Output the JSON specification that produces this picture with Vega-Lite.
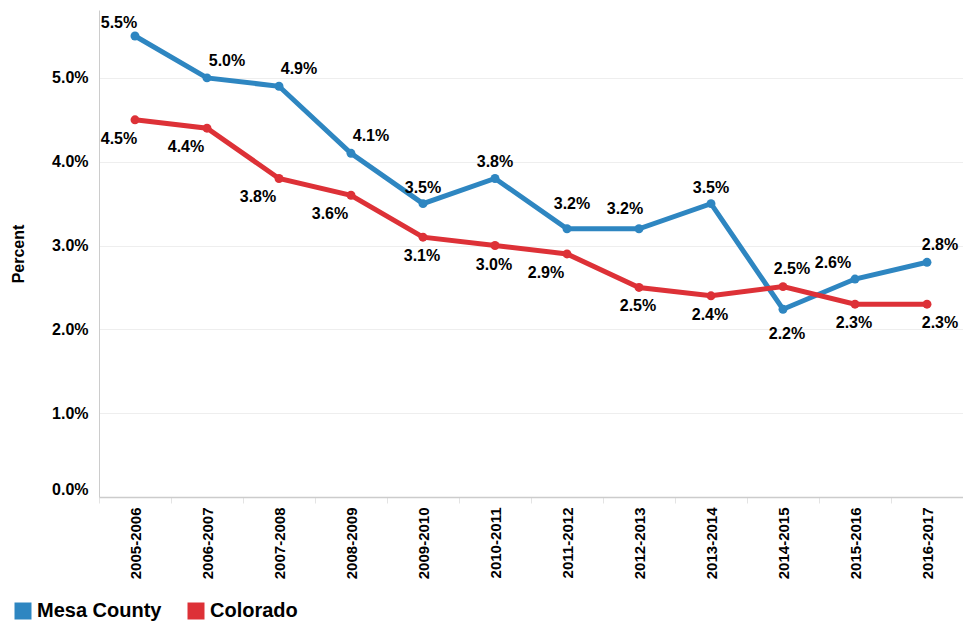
{
  "$schema": "https://vega.github.io/schema/vega-lite/v6.json",
  "autosize": {"type": "none"},
  "padding": {"left": 99, "top": 10, "right": 0, "bottom": 143},
  "width": 864,
  "height": 487,
  "background": "white",
  "config": {
    "font": "Liberation Sans",
    "view": {"stroke": null}
  },
  "data": {
    "values": [
      {"period": "2005-2006", "series": "Mesa County", "value": 0.055},
      {"period": "2006-2007", "series": "Mesa County", "value": 0.050},
      {"period": "2007-2008", "series": "Mesa County", "value": 0.049},
      {"period": "2008-2009", "series": "Mesa County", "value": 0.041},
      {"period": "2009-2010", "series": "Mesa County", "value": 0.035},
      {"period": "2010-2011", "series": "Mesa County", "value": 0.038},
      {"period": "2011-2012", "series": "Mesa County", "value": 0.032},
      {"period": "2012-2013", "series": "Mesa County", "value": 0.032},
      {"period": "2013-2014", "series": "Mesa County", "value": 0.035},
      {"period": "2014-2015", "series": "Mesa County", "value": 0.0224},
      {"period": "2015-2016", "series": "Mesa County", "value": 0.026},
      {"period": "2016-2017", "series": "Mesa County", "value": 0.028},
      {"period": "2005-2006", "series": "Colorado", "value": 0.045},
      {"period": "2006-2007", "series": "Colorado", "value": 0.044},
      {"period": "2007-2008", "series": "Colorado", "value": 0.038},
      {"period": "2008-2009", "series": "Colorado", "value": 0.036},
      {"period": "2009-2010", "series": "Colorado", "value": 0.031},
      {"period": "2010-2011", "series": "Colorado", "value": 0.030},
      {"period": "2011-2012", "series": "Colorado", "value": 0.029},
      {"period": "2012-2013", "series": "Colorado", "value": 0.025},
      {"period": "2013-2014", "series": "Colorado", "value": 0.024},
      {"period": "2014-2015", "series": "Colorado", "value": 0.0251},
      {"period": "2015-2016", "series": "Colorado", "value": 0.023},
      {"period": "2016-2017", "series": "Colorado", "value": 0.023}
    ]
  },
  "encoding": {
    "x": {
      "field": "period",
      "type": "ordinal",
      "sort": null,
      "scale": {"paddingInner": 0, "paddingOuter": 0},
      "axis": {
        "title": null,
        "labelAngle": -90,
        "labelAlign": "right",
        "labelBaseline": "middle",
        "labelFontSize": 15,
        "labelFontWeight": "bold",
        "labelColor": "#000000",
        "labelPadding": 4,
        "tickBand": "extent",
        "tickSize": 6,
        "tickColor": "#e4e4e4",
        "domainColor": "#cccccc",
        "domainWidth": 1.5,
        "grid": false
      }
    },
    "y": {
      "field": "value",
      "type": "quantitative",
      "scale": {"domain": [0, 0.0581], "nice": false},
      "axis": {
        "title": "Percent",
        "titleFontSize": 16,
        "titleFontWeight": "bold",
        "titleColor": "#000000",
        "titleX": -81,
        "titleBaseline": "middle",
        "values": [0, 0.01, 0.02, 0.03, 0.04, 0.05],
        "format": ".1%",
        "labelFontSize": 16,
        "labelFontWeight": "bold",
        "labelColor": "#000000",
        "labelPadding": 11,
        "labelFlush": true,
        "ticks": false,
        "tickSize": 0,
        "domainColor": "#cccccc",
        "gridColor": "#eeeeee",
        "gridWidth": 1
      }
    },
    "color": {
      "field": "series",
      "type": "nominal",
      "scale": {"domain": ["Mesa County", "Colorado"], "range": ["#2e86c1", "#dd3137"]},
      "legend": {
        "orient": "none",
        "legendX": -86,
        "legendY": 591,
        "direction": "horizontal",
        "symbolType": "square",
        "symbolSize": 289,
        "symbolStrokeWidth": 0,
        "symbolOpacity": 1,
        "labelFontSize": 20,
        "labelFontWeight": "bold",
        "labelColor": "#000000",
        "columnPadding": 24,
        "labelOffset": 4,
        "title": null
      }
    }
  },
  "layer": [
    {
      "mark": {"type": "line", "strokeWidth": 5}
    },
    {
      "mark": {"type": "point", "filled": true, "size": 80, "opacity": 1, "shape": "circle"}
    },
    {
      "transform": [{"filter": {"and": [{"field": "series", "equal": "Mesa County"}, {"field": "period", "oneOf": ["2005-2006"]}]}}],
      "mark": {"type": "text", "dx": -16, "dy": -13, "fontSize": 16, "fontWeight": "bold"},
      "encoding": {"text": {"field": "value", "type": "quantitative", "format": ".1%"}, "color": {"value": "#000000"}}
    },
    {
      "transform": [{"filter": {"and": [{"field": "series", "equal": "Mesa County"}, {"field": "period", "oneOf": ["2006-2007", "2007-2008", "2008-2009"]}]}}],
      "mark": {"type": "text", "dx": 20, "dy": -17, "fontSize": 16, "fontWeight": "bold"},
      "encoding": {"text": {"field": "value", "type": "quantitative", "format": ".1%"}, "color": {"value": "#000000"}}
    },
    {
      "transform": [{"filter": {"and": [{"field": "series", "equal": "Mesa County"}, {"field": "period", "oneOf": ["2009-2010", "2010-2011", "2013-2014"]}]}}],
      "mark": {"type": "text", "dx": 0, "dy": -16, "fontSize": 16, "fontWeight": "bold"},
      "encoding": {"text": {"field": "value", "type": "quantitative", "format": ".1%"}, "color": {"value": "#000000"}}
    },
    {
      "transform": [{"filter": {"and": [{"field": "series", "equal": "Mesa County"}, {"field": "period", "oneOf": ["2011-2012"]}]}}],
      "mark": {"type": "text", "dx": 5, "dy": -25, "fontSize": 16, "fontWeight": "bold"},
      "encoding": {"text": {"field": "value", "type": "quantitative", "format": ".1%"}, "color": {"value": "#000000"}}
    },
    {
      "transform": [{"filter": {"and": [{"field": "series", "equal": "Mesa County"}, {"field": "period", "oneOf": ["2012-2013"]}]}}],
      "mark": {"type": "text", "dx": -14, "dy": -20, "fontSize": 16, "fontWeight": "bold"},
      "encoding": {"text": {"field": "value", "type": "quantitative", "format": ".1%"}, "color": {"value": "#000000"}}
    },
    {
      "transform": [{"filter": {"and": [{"field": "series", "equal": "Mesa County"}, {"field": "period", "oneOf": ["2014-2015"]}]}}],
      "mark": {"type": "text", "dx": 4, "dy": 25, "fontSize": 16, "fontWeight": "bold"},
      "encoding": {"text": {"field": "value", "type": "quantitative", "format": ".1%"}, "color": {"value": "#000000"}}
    },
    {
      "transform": [{"filter": {"and": [{"field": "series", "equal": "Mesa County"}, {"field": "period", "oneOf": ["2015-2016"]}]}}],
      "mark": {"type": "text", "dx": -22, "dy": -16, "fontSize": 16, "fontWeight": "bold"},
      "encoding": {"text": {"field": "value", "type": "quantitative", "format": ".1%"}, "color": {"value": "#000000"}}
    },
    {
      "transform": [{"filter": {"and": [{"field": "series", "equal": "Mesa County"}, {"field": "period", "oneOf": ["2016-2017"]}]}}],
      "mark": {"type": "text", "dx": 13, "dy": -17, "fontSize": 16, "fontWeight": "bold"},
      "encoding": {"text": {"field": "value", "type": "quantitative", "format": ".1%"}, "color": {"value": "#000000"}}
    },
    {
      "transform": [{"filter": {"and": [{"field": "series", "equal": "Colorado"}, {"field": "period", "oneOf": ["2005-2006"]}]}}],
      "mark": {"type": "text", "dx": -16, "dy": 19, "fontSize": 16, "fontWeight": "bold"},
      "encoding": {"text": {"field": "value", "type": "quantitative", "format": ".1%"}, "color": {"value": "#000000"}}
    },
    {
      "transform": [{"filter": {"and": [{"field": "series", "equal": "Colorado"}, {"field": "period", "oneOf": ["2006-2007", "2007-2008", "2008-2009", "2011-2012"]}]}}],
      "mark": {"type": "text", "dx": -21, "dy": 19, "fontSize": 16, "fontWeight": "bold"},
      "encoding": {"text": {"field": "value", "type": "quantitative", "format": ".1%"}, "color": {"value": "#000000"}}
    },
    {
      "transform": [{"filter": {"and": [{"field": "series", "equal": "Colorado"}, {"field": "period", "oneOf": ["2009-2010", "2010-2011", "2012-2013", "2013-2014", "2015-2016"]}]}}],
      "mark": {"type": "text", "dx": -1, "dy": 19, "fontSize": 16, "fontWeight": "bold"},
      "encoding": {"text": {"field": "value", "type": "quantitative", "format": ".1%"}, "color": {"value": "#000000"}}
    },
    {
      "transform": [{"filter": {"and": [{"field": "series", "equal": "Colorado"}, {"field": "period", "oneOf": ["2014-2015"]}]}}],
      "mark": {"type": "text", "dx": 9, "dy": -18, "fontSize": 16, "fontWeight": "bold"},
      "encoding": {"text": {"field": "value", "type": "quantitative", "format": ".1%"}, "color": {"value": "#000000"}}
    },
    {
      "transform": [{"filter": {"and": [{"field": "series", "equal": "Colorado"}, {"field": "period", "oneOf": ["2016-2017"]}]}}],
      "mark": {"type": "text", "dx": 13, "dy": 19, "fontSize": 16, "fontWeight": "bold"},
      "encoding": {"text": {"field": "value", "type": "quantitative", "format": ".1%"}, "color": {"value": "#000000"}}
    }
  ]
}
